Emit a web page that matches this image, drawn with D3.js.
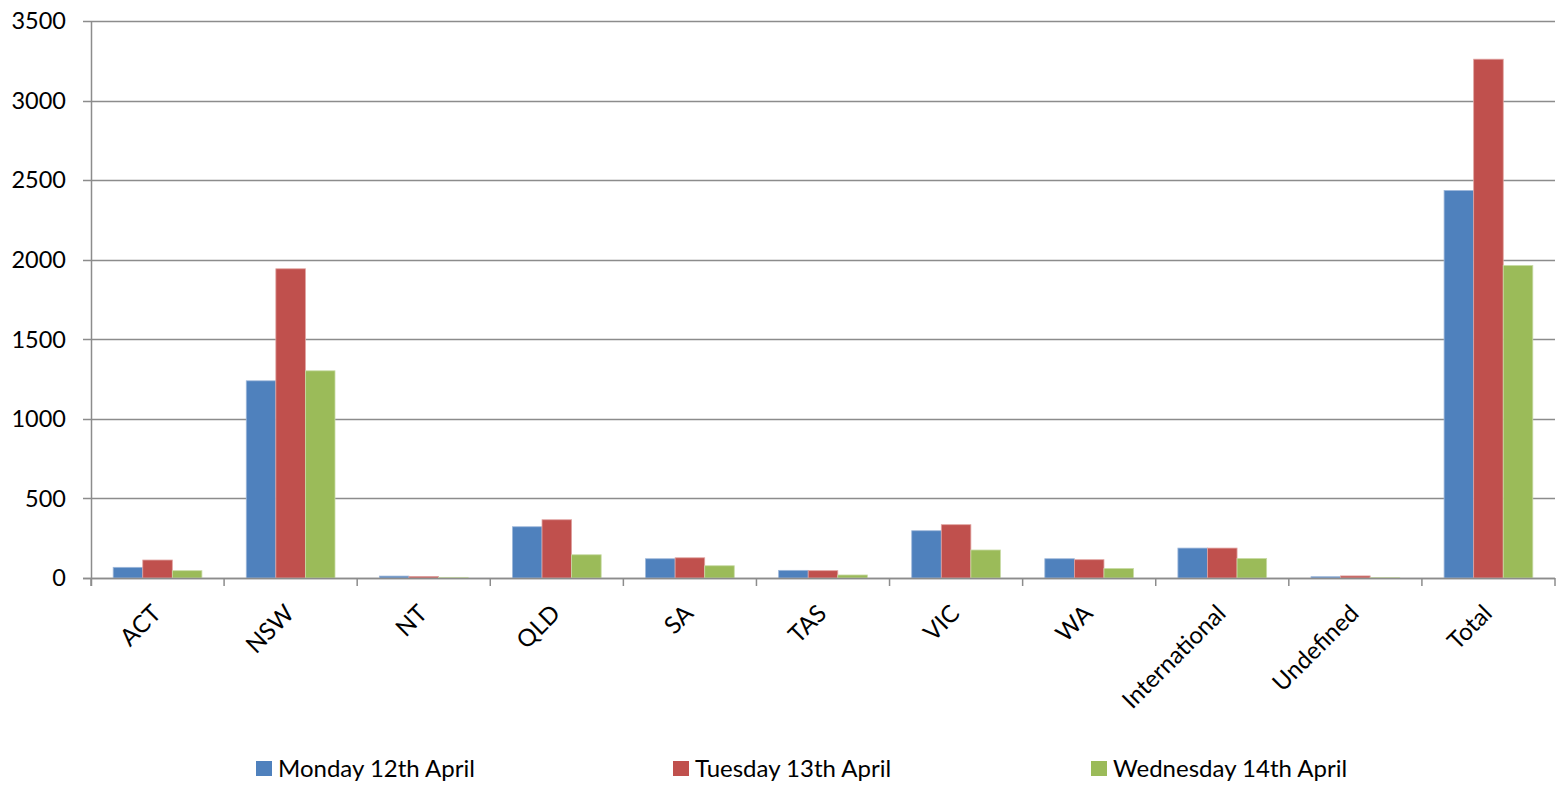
<!DOCTYPE html>
<html><head><meta charset="utf-8">
<script src="https://cdn.jsdelivr.net/npm/d3@7"></script>
<style>html,body{margin:0;padding:0;background:#fff;}svg{display:block;}</style>
</head><body>
<script>
const categories = ["ACT","NSW","NT","QLD","SA","TAS","VIC","WA","International","Undefined","Total"];
const seriesNames = ["Monday 12th April","Tuesday 13th April","Wednesday 14th April"];
const monday    = [67, 1239, 12, 322, 121, 48, 297, 121, 188, 8, 2435];
const tuesday   = [113, 1943, 10, 366, 127, 46, 335, 115, 188, 13, 3260];
const wednesday = [46, 1302, 4, 146, 77, 19, 176, 60, 123, 2, 1964];
const yTicks = [0,500,1000,1500,2000,2500,3000,3500];
const colors = ["#4F81BD","#C0504D","#9BBB59"];
const strokes = ["#9DB7DA","#E0A3A1","#C9DBA6"];

const W = 1562, H = 787;
const pLeft = 91, pRight = 1555, pTop = 21, pBottom = 578;
const font = "Lato, 'Open Sans', sans-serif";

const svg = d3.select("body").append("svg").attr("width", W).attr("height", H);

const x0 = d3.scaleBand().domain(categories).range([pLeft, pRight]).paddingInner(0).paddingOuter(0);
const y = d3.scaleLinear().domain([0, 3500]).range([pBottom, pTop]);
const series = [monday, tuesday, wednesday];
const groupW = x0.bandwidth() * (3 / 4.5);
const x1 = d3.scaleBand().domain([0,1,2]).range([0, groupW]).padding(0);
const offset = (x0.bandwidth() - groupW) / 2;

// gridlines
svg.append("g").selectAll("line").data(yTicks).join("line")
  .attr("x1", pLeft - 8).attr("x2", pRight)
  .attr("y1", d => Math.round(y(d)) + 0.5).attr("y2", d => Math.round(y(d)) + 0.5)
  .attr("stroke", "#8C8C8C").attr("stroke-width", 1.5);

// y labels
svg.append("g").selectAll("text").data(yTicks).join("text")
  .attr("x", 66).attr("y", d => y(d)).attr("dy", "0.35em")
  .attr("text-anchor", "end").attr("font-family", font).attr("font-size", 23.5)
  .attr("fill", "#000").text(d => d);

// bars
categories.forEach((c, i) => {
  series.forEach((s, j) => {
    svg.append("rect")
      .attr("x", x0(c) + offset + x1(j))
      .attr("y", y(s[i]))
      .attr("width", x1.bandwidth())
      .attr("height", pBottom - y(s[i]))
      .attr("fill", colors[j])
      .attr("stroke", strokes[j]).attr("stroke-width", 0.8);
  });
});

// y axis line
svg.append("line").attr("x1", pLeft + 0.5).attr("x2", pLeft + 0.5).attr("y1", pTop).attr("y2", pBottom + 8)
  .attr("stroke", "#8C8C8C").attr("stroke-width", 1.5);
// x axis line
svg.append("line").attr("x1", pLeft - 8).attr("x2", pRight).attr("y1", Math.round(pBottom) + 0.5).attr("y2", Math.round(pBottom) + 0.5)
  .attr("stroke", "#8C8C8C").attr("stroke-width", 1.5);
// category ticks
const bounds = categories.map(c => x0(c)).concat([pRight]);
svg.append("g").selectAll("line").data(bounds).join("line")
  .attr("x1", d => d).attr("x2", d => d).attr("y1", pBottom).attr("y2", pBottom + 8)
  .attr("stroke", "#8C8C8C").attr("stroke-width", 1.5);

// category labels
svg.append("g").selectAll("text").data(categories).join("text")
  .attr("transform", d => `translate(${x0(d) + x0.bandwidth()/2 - 1},${pBottom + 31}) rotate(-45)`)
  .attr("text-anchor", "end").attr("dy", "0.35em")
  .attr("font-family", font).attr("font-size", 24).attr("fill", "#000")
  .text(d => d);

// legend
const legX = [256, 673, 1091];
const lg = svg.append("g").selectAll("g").data(seriesNames).join("g")
  .attr("transform", (d, i) => `translate(${legX[i]},761)`);
lg.append("rect").attr("width", 16).attr("height", 15).attr("fill", (d, i) => colors[i]);
lg.append("text").attr("x", 22).attr("y", 15.5).attr("font-family", font).attr("font-size", 24)
  .attr("fill", "#000").text(d => d);
</script>
</body></html>
